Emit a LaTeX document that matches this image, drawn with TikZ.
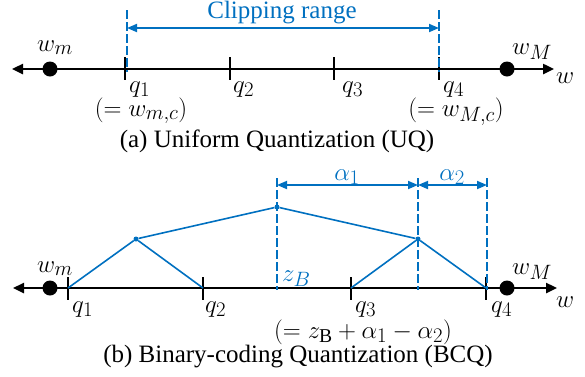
\documentclass[tikz,border=0pt]{standalone}
\usepackage{fontspec}
\setmainfont{Liberation Serif}
\usetikzlibrary{arrows.meta,calc}
\definecolor{ublue}{RGB}{0,112,192}
\tikzset{
  axisline/.style={line width=2.4pt,{Triangle[length=11pt,width=10pt]}-{Triangle[length=11pt,width=10pt]}},
  tickmark/.style={line width=2.6pt},
  bigdot/.style={circle,fill=black,inner sep=0pt,minimum size=15pt},
  bluedash/.style={ublue,line width=2pt,dash pattern=on 9pt off 3pt},
  bluearrow/.style={ublue,line width=1.8pt,{Triangle[length=10pt,width=8pt]}-{Triangle[length=10pt,width=8pt]}},
  treeline/.style={ublue,line width=1.6pt},
  treenode/.style={circle,fill=ublue,inner sep=0pt,minimum size=5pt},
  lbl/.style={inner sep=0pt,anchor=base west,font=\fontsize{28}{32}\selectfont},
  eqtxt/.style={inner sep=0pt,anchor=base,font=\fontsize{28}{32}\selectfont},
  captxt/.style={inner sep=0pt,anchor=base},
}
\begin{document}
\begin{tikzpicture}[x=1pt,y=-1pt,font=\fontsize{25}{30}\selectfont]
\useasboundingbox (0,0) rectangle (585,376);
% ---------- (a) ----------
\coordinate (aL) at (12,69); \coordinate (aR) at (554,69);
\draw[axisline] (aL) -- (aR);
\foreach \n/\x in {1/125,2/230,3/334,4/439}{
  \coordinate (ua\n) at (\x,57); \coordinate (ub\n) at (\x,80);
  \draw[tickmark] (ua\n) -- (ub\n);
}
\coordinate (cl1) at (127,10); \coordinate (cl1b) at (127,72);
\coordinate (cl4) at (439,10); \coordinate (cl4b) at (439,72);
\draw[bluedash] (cl1) -- (cl1b);
\draw[bluedash] (cl4) -- (cl4b);
\coordinate (ra) at (127,28); \coordinate (rb) at (439,28);
\draw[bluearrow] (ra) -- (rb);
\node[captxt,text=ublue] (clip) at (282,18) {Clipping range};
\node[bigdot] (wm) at (50,69) {};
\node[bigdot] (wM) at (507,69) {};
\node[lbl] (wml) at (37,51) {$w_m$};
\node[lbl] (wMl) at (512,54) {$w_M$};
\node[lbl] (wa) at (556,83) {$w$};
\node[lbl] (q1a) at (129,92) {$q_1$};
\node[lbl] (q2a) at (233,92) {$q_2$};
\node[lbl] (q3a) at (342,92) {$q_3$};
\node[lbl] (q4a) at (443,92) {$q_4$};
\node[eqtxt] (wmc) at (141,116) {$(=w_{m,c})$};
\node[eqtxt] (wMc) at (456,116) {$(=w_{M,c})$};
\node[captxt] (capa) at (277,147) {(a) Uniform Quantization (UQ)};
% ---------- (b) ----------
\coordinate (bL) at (13,288); \coordinate (bR) at (557,288);
\draw[axisline] (bL) -- (bR);
\foreach \n/\x in {1/68,2/203,3/351,4/486}{
  \coordinate (q\n) at (\x,288);
  \coordinate (va\n) at (\x,277); \coordinate (vb\n) at (\x,300);
  \draw[tickmark] (va\n) -- (vb\n);
}
\foreach \n/\x in {z/277,a/418,b/487}{
  \coordinate (d\n t) at (\x,178); \coordinate (d\n b) at (\x,290);
  \draw[bluedash] (d\n t) -- (d\n b);
}
\coordinate (al0) at (277,185); \coordinate (al1) at (418,185); \coordinate (al2) at (487,185);
\draw[bluearrow] (al0) -- (al1);
\draw[bluearrow] (al1) -- (al2);
\node[eqtxt,text=ublue] (a1) at (347,180) {$\alpha_1$};
\node[eqtxt,text=ublue] (a2) at (452,180) {$\alpha_2$};
\node[treenode] (top) at (277,207) {};
\node[treenode] (lft) at (136,239) {};
\node[treenode] (rgt) at (418,239) {};
\draw[treeline] (lft) -- (top) -- (rgt);
\draw[treeline] (q1) -- (lft) -- (q2);
\draw[treeline] (q3) -- (rgt) -- (q4);
\node[bigdot] (wm2) at (50,288) {};
\node[bigdot] (wM2) at (507,288) {};
\node[lbl,text=ublue] (zb) at (282,281) {$z_B$};
\node[lbl] (wml2) at (37,272) {$w_m$};
\node[lbl] (wMl2) at (512,274) {$w_M$};
\node[lbl] (wb) at (556,307) {$w$};
\node[lbl] (q1b) at (72,312) {$q_1$};
\node[lbl] (q2b) at (205,312) {$q_2$};
\node[lbl] (q3b) at (355,312) {$q_3$};
\node[lbl] (q4b) at (491,312) {$q_4$};
\node[eqtxt] (eq) at (363,338) {$(=z_{\mathrm{B}}+\alpha_1-\alpha_2)$};
\node[captxt] (capb) at (298,362) {(b) Binary-coding Quantization (BCQ)};
\end{tikzpicture}
\end{document}
